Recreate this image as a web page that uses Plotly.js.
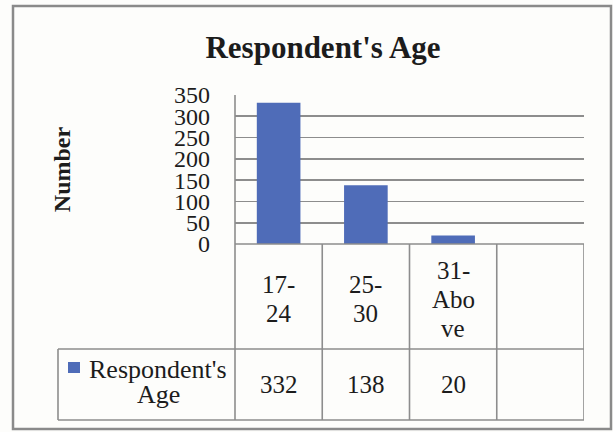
<!DOCTYPE html>
<html>
<head>
<meta charset="utf-8">
<script src="https://cdn.plot.ly/plotly-3.0.1.min.js"></script>
<style>
  html, body { margin: 0; padding: 0; background: #fdfdfb; }
  #chart { width: 613px; height: 432px; }
</style>
</head>
<body>
<div id="chart"></div>
<script>
// Respondents by age group
const categories = ["17-24", "25-30", "31-Above"];
const categoryLines = [["17-", "24"], ["25-", "30"], ["31-", "Abo", "ve"]];
const values = [332, 138, 20];
const seriesName = "Respondent's Age";
const legendLines = ["Respondent's", "Age"];
const tickValues = [0, 50, 100, 150, 200, 250, 300, 350];

// layout geometry (pixels)
const W = 613, H = 432;
const L = 235, R = 584, T = 95, B = 244;
const ROW1 = 349, ROW2 = 420, LEGEND_LEFT = 58;
const fx = x => (x - L) / (R - L);
const fy = y => (B - y) / (B - T);

const serif = "Liberation Serif, Times New Roman, serif";
const ink = "#1c1c1c";
const grid = "#8d8d8d";
const barColor = "#4f6cb8";
const nSlots = 4; // one empty column at the end of the table

const shapes = [];
// outer chart border
shapes.push({type: "rect", xref: "paper", yref: "paper",
  x0: fx(13), x1: fx(611), y0: fy(429), y1: fy(6),
  line: {color: "#8a8a8a", width: 2.5}, fillcolor: "rgba(0,0,0,0)", layer: "below"});
// left rule continues down through the table
shapes.push({type: "line", xref: "paper", yref: "paper",
  x0: 0, x1: 0, y0: fy(T), y1: fy(ROW2), line: {color: grid, width: 1.6}});
// column dividers of the data table
for (let k = 1; k <= nSlots; k++) {
  shapes.push({type: "line", xref: "x", yref: "paper",
    x0: k - 0.5, x1: k - 0.5, y0: fy(B), y1: fy(ROW2), line: {color: grid, width: 1.6}});
}
// row rules
shapes.push({type: "line", xref: "paper", yref: "paper",
  x0: 0, x1: 1, y0: fy(B), y1: fy(B), line: {color: grid, width: 1.6}});
[ROW1, ROW2].forEach(y => shapes.push({type: "line", xref: "paper", yref: "paper",
  x0: fx(LEGEND_LEFT), x1: 1, y0: fy(y), y1: fy(y), line: {color: grid, width: 1.6}}));
shapes.push({type: "line", xref: "paper", yref: "paper",
  x0: fx(LEGEND_LEFT), x1: fx(LEGEND_LEFT), y0: fy(ROW1), y1: fy(ROW2),
  line: {color: grid, width: 1.6}});
// legend key
shapes.push({type: "rect", xref: "paper", yref: "paper",
  x0: fx(68), x1: fx(80), y0: fy(373), y1: fy(362),
  line: {width: 0}, fillcolor: barColor});

const annotations = [];
const tableFont = {family: serif, size: 25, color: ink};
const pitch = 29, labelCenter = 299;
categories.forEach((c, i) => {
  const lines = categoryLines[i];
  lines.forEach((t, j) => {
    annotations.push({xref: "x", yref: "paper", x: c,
      y: fy(labelCenter + (j - (lines.length - 1) / 2) * pitch),
      text: t, showarrow: false, xanchor: "center", yanchor: "middle", font: tableFont});
  });
  annotations.push({xref: "x", yref: "paper", x: c, y: fy(384),
    text: String(values[i]), showarrow: false, xanchor: "center", yanchor: "middle", font: tableFont});
});
legendLines.forEach((t, j) => {
  annotations.push({xref: "paper", yref: "paper", x: fx(158), y: fy(369 + j * 25),
    text: t, showarrow: false, xanchor: "center", yanchor: "middle",
    font: {family: serif, size: 26, color: ink}});
});

const trace = {
  type: "bar",
  name: seriesName,
  x: categories,
  y: values,
  width: 0.5,
  marker: {color: barColor},
  hoverinfo: "x+y"
};

const layout = {
  width: W, height: H,
  margin: {l: L, r: W - R, t: T, b: H - B, pad: 0},
  paper_bgcolor: "#fdfdfb",
  plot_bgcolor: "#fdfdfb",
  showlegend: false,
  title: {
    text: "<b>" + seriesName + "</b>",
    font: {family: serif, size: 31, color: ink},
    x: 323 / W, xref: "container", xanchor: "center",
    y: 1 - 47 / H, yref: "container", yanchor: "middle"
  },
  xaxis: {
    type: "category",
    range: [-0.5, nSlots - 0.5],
    showticklabels: false, ticks: "", showgrid: false, zeroline: false, showline: false,
    fixedrange: true
  },
  yaxis: {
    range: [0, 350],
    tickmode: "array", tickvals: tickValues, ticktext: tickValues.map(String),
    showgrid: true, gridcolor: grid, gridwidth: 1.6,
    zeroline: false, showline: false, ticks: "",
    ticklabelstandoff: 24,
    tickfont: {family: serif, size: 24, color: ink},
    title: {text: "<b>Number</b>", standoff: 96, font: {family: serif, size: 24, color: ink}},
    fixedrange: true
  },
  shapes: shapes,
  annotations: annotations
};

Plotly.newPlot("chart", [trace], layout, {displayModeBar: false, staticPlot: true});
</script>
</body>
</html>
